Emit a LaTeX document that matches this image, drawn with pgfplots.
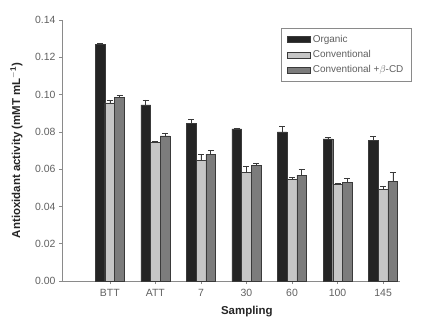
\documentclass[border=0pt]{standalone}
\usepackage{pgfplots}
\pgfplotsset{compat=1.18}
\usepackage{fontspec}
\setmainfont{Liberation Sans}
\definecolor{orgc}{HTML}{242424}
\definecolor{convc}{HTML}{C6C6C6}
\definecolor{cdc}{HTML}{7C7C7C}
\definecolor{edgec}{HTML}{3A3A3A}
\definecolor{axc}{HTML}{8A8A8A}
\definecolor{tickc}{HTML}{606060}
\begin{document}
\begin{tikzpicture}[x=1bp,y=1bp]
\useasboundingbox (-62,-39) rectangle (364,281);
\begin{axis}[
  at={(0,0)}, anchor=south west,
  scale only axis, width=338bp, height=261bp,
  axis x line=bottom, axis y line=left,
  axis line style={axc, line width=0.6pt, -},
  ybar=0pt, bar width=9.7bp,
  xmin=-1.05, xmax=6.37, ymin=0, ymax=0.14,
  xtick={0,...,6},
  xticklabels={BTT,ATT,7,30,60,100,145},
  ytick={0,0.02,...,0.14},
  yticklabel style={/pgf/number format/.cd, fixed, fixed zerofill, precision=2},
  /pgf/number format/assume math mode=true,
  tick style={axc, line width=0.6pt},
  tick align=outside, major tick length=3bp,
  ticklabel style={font=\fontsize{10.5}{12}\selectfont, text=tickc},
  xticklabel style={yshift=-2bp},
  xlabel={\textbf{Sampling}},
  ylabel={\textbf{Antioxidant activity (mMT mL$^{\mathbf{-1}}$)}},
  label style={font=\fontsize{11.5}{13}\selectfont, text=black!85},
  xlabel style={at={(axis description cs:0.547,0)}, anchor=north, yshift=-22bp},
  ylabel style={at={(axis description cs:0,0.5)}, anchor=south, yshift=36bp},
  error bars/y dir=plus, error bars/y explicit,
  error bars/error bar style={edgec, line width=0.5pt},
  error bars/error mark options={rotate=90, mark size=3bp, edgec, line width=0.5pt},
  legend style={at={(axis description cs:0.648,0.969)}, anchor=north west,
    draw=axc, line width=0.6pt, font=\fontsize{10}{11.5}\selectfont, text=tickc,
    inner xsep=6bp, inner ysep=5bp, row sep=2.5bp, cells={anchor=west}},
  legend image code/.code={\draw[#1, line width=0.5pt] (0bp,-3bp) rectangle (23bp,3bp);},
]
\addplot[fill=orgc, draw=edgec, line width=0.4pt] coordinates {
 (0,0.127) +- (0,0.0006)
 (1,0.0945) +- (0,0.0027)
 (2,0.0845) +- (0,0.0021)
 (3,0.0816) +- (0,0.0005)
 (4,0.0800) +- (0,0.0029)
 (5,0.0763) +- (0,0.0008)
 (6,0.0756) +- (0,0.0021)
};
\addplot[fill=convc, draw=edgec, line width=0.4pt] coordinates {
 (0,0.0956) +- (0,0.0015)
 (1,0.0743) +- (0,0.0005)
 (2,0.0648) +- (0,0.0032)
 (3,0.0584) +- (0,0.0034)
 (4,0.0545) +- (0,0.0009)
 (5,0.0518) +- (0,0.0009)
 (6,0.0491) +- (0,0.0018)
};
\addplot[fill=cdc, draw=edgec, line width=0.4pt] coordinates {
 (0,0.0985) +- (0,0.0010)
 (1,0.0779) +- (0,0.0016)
 (2,0.0680) +- (0,0.0021)
 (3,0.0620) +- (0,0.0012)
 (4,0.0568) +- (0,0.0034)
 (5,0.0530) +- (0,0.0023)
 (6,0.0535) +- (0,0.0048)
};
\legend{Organic, Conventional, Conventional +$\beta$-CD}
\end{axis}
\end{tikzpicture}
\end{document}
